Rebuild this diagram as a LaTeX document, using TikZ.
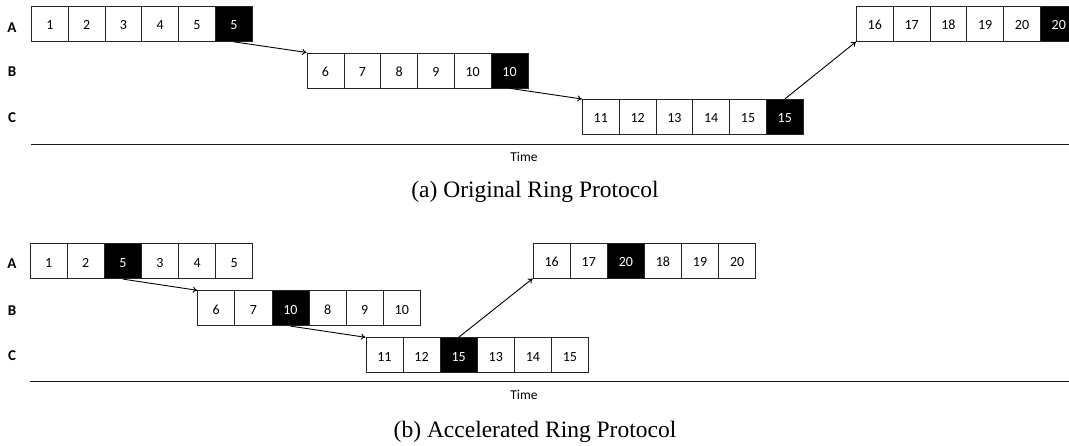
\documentclass[tikz,border=0pt]{standalone}
\usepackage{fontspec}
\setmainfont{Liberation Serif}
\newfontfamily\boxfont{Carlito}
\usetikzlibrary{arrows.meta}

\tikzset{
  pk/.style={draw=black!85, line width=0.8pt, fill=white, minimum width=#1, minimum height=35pt,
             inner sep=0pt, anchor=north west, text height=11.8pt, text depth=0pt,
             font=\boxfont\fontsize{14}{16}\selectfont},
  pk/.default=37pt,
  blk/.style={pk=#1, fill=black, text=white},
  blk/.default=37pt,
  proc/.style={font=\boxfont\bfseries\fontsize{15}{17}\selectfont},
  timeline/.style={line width=1.4pt, black!90},
  timelabel/.style={font=\boxfont\fontsize{13.5}{15}\selectfont},
  caption/.style={anchor=base, font=\fontsize{23.5}{26}\selectfont},
  send/.style={line width=0.9pt, -{To[length=4.5pt,width=6pt]}}
}

\begin{document}
\begin{tikzpicture}[x=1pt,y=-1pt]
\useasboundingbox (0,0) rectangle (1069,445);

% ---------- (a) original ring protocol ----------
\node[proc] (laA) at (12,27.5) {A};
\node[proc] (laB) at (12,72) {B};
\node[proc] (laC) at (12,117.5) {C};

\foreach \v/\s [count=\i from 0] in {1/pk,2/pk,3/pk,4/pk,5/pk,5/blk}
  \node[\s=36.8pt] (aA\i) at ({31+36.8*\i},6) {\v};
\foreach \v/\s [count=\i from 0] in {6/pk,7/pk,8/pk,9/pk,10/pk,10/blk}
  \node[\s=36.8pt] (aB\i) at ({306.7+36.8*\i},52.5) {\v};
\foreach \v/\s [count=\i from 0] in {11/pk,12/pk,13/pk,14/pk,15/pk,15/blk}
  \node[\s=36.8pt] (aC\i) at ({582+36.8*\i},99) {\v};
\foreach \v/\s [count=\i from 0] in {16/pk,17/pk,18/pk,19/pk,20/pk,20/blk}
  \node[\s=36.8pt] (aD\i) at ({856+36.8*\i},6) {\v};

\draw[send] (aA5.south) -- (aB0.north west);
\draw[send] (aB5.south) -- (aC0.north west);
\draw[send] (aC5.north) -- (aD0.south west);

\coordinate (taL) at (31,144.5);
\coordinate (taR) at (1069,144.5);
\draw[timeline] (taL) -- (taR);
\node[timelabel] (ta) at (524,157) {Time};
\node[caption] (capa) at (535,197) {(a) Original Ring Protocol};

% ---------- (b) accelerated ring protocol ----------
\node[proc] (lbA) at (12,264) {A};
\node[proc] (lbB) at (12,310.5) {B};
\node[proc] (lbC) at (12,355.5) {C};

\foreach \v/\s [count=\i from 0] in {1/pk,2/pk,5/blk,3/pk,4/pk,5/pk}
  \node[\s=37.1pt] (bA\i) at ({29.7+37.1*\i},243.3) {\v};
\foreach \v/\s [count=\i from 0] in {6/pk,7/pk,10/blk,8/pk,9/pk,10/pk}
  \node[\s=37.1pt] (bB\i) at ({197.3+37.1*\i},290.3) {\v};
\foreach \v/\s [count=\i from 0] in {11/pk,12/pk,15/blk,13/pk,14/pk,15/pk}
  \node[\s=37.1pt] (bC\i) at ({365.5+37.1*\i},337.3) {\v};
\foreach \v/\s [count=\i from 0] in {16/pk,17/pk,20/blk,18/pk,19/pk,20/pk}
  \node[\s=37.1pt] (bD\i) at ({532.7+37.1*\i},242.7) {\v};

\draw[send] (bA2.south) -- (bB0.north west);
\draw[send] (bB2.south) -- (bC0.north west);
\draw[send] (bC2.north) -- (bD0.south west);

\coordinate (tbL) at (30,381.7);
\coordinate (tbR) at (1069,381.7);
\draw[timeline] (tbL) -- (tbR);
\node[timelabel] (tb) at (524,395) {Time};
\node[caption] (capb) at (535,437) {(b) Accelerated Ring Protocol};
\end{tikzpicture}
\end{document}
